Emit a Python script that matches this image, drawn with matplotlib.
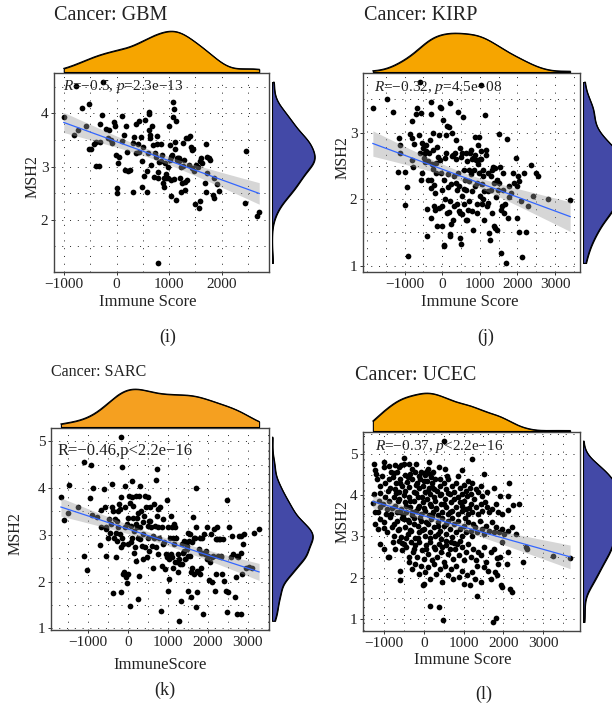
import numpy as np
import matplotlib
matplotlib.use("Agg")
import matplotlib.pyplot as plt
from matplotlib.ticker import MultipleLocator

plt.rcParams['font.family'] = ['Liberation Serif', 'DejaVu Serif']
plt.rcParams['mathtext.fontset'] = 'custom'
plt.rcParams['mathtext.rm'] = 'Liberation Serif'
plt.rcParams['mathtext.it'] = 'Liberation Serif:italic'

W, H = 612, 714

# (Immune Score, MSH2)
gbm_points = [
    (-1006, 3.94), (-804, 3.59), (-741, 3.68), (-659, 4.11), (-583, 3.76), (-520, 4.18), (-526, 3.33),
    (-488, 3.33), (-425, 3.43), (-387, 3.47), (-387, 3.02), (-343, 3.01), (-312, 3.47), (-324, 3.81),
    (-280, 3.97), (-204, 3.71), (-166, 3.54), (-135, 3.68), (-110, 3.51), (-78, 3.44), (-53, 3.84),
    (-28, 3.76), (-9, 3.22), (4, 2.59), (10, 2.51), (35, 3.07), (48, 3.19), (99, 3.49), (111, 3.96),
    (136, 3.59), (162, 2.93), (187, 3.76), (199, 3.27), (225, 2.92), (250, 2.94), (307, 2.52), (307, 3.44),
    (326, 3.56), (364, 3.81), (370, 3.26), (401, 3.43), (427, 3.85), (433, 3.27), (471, 3.55), (477, 2.62),
    (477, 3.10), (502, 3.36), (515, 2.82), (540, 3.88), (578, 2.91), (584, 2.52), (597, 3.26), (610, 4.02),
    (616, 3.99), (622, 3.68), (635, 3.60), (641, 3.53), (660, 3.04), (673, 3.76), (692, 3.40), (717, 2.80),
    (730, 3.26), (742, 3.18), (761, 3.42), (774, 3.57), (780, 2.78), (793, 2.89), (812, 3.08), (837, 3.43),
    (849, 3.11), (868, 3.22), (887, 2.69), (894, 2.62), (906, 2.79), (919, 3.06), (938, 2.87), (950, 2.78),
    (982, 3.00), (982, 2.78), (1007, 3.76), (1014, 3.12), (1026, 3.41), (1032, 2.44), (1039, 3.19),
    (1045, 2.74), (1064, 3.22), (1083, 3.94), (1089, 4.08), (1077, 4.21), (1096, 2.77), (1114, 3.34),
    (1121, 3.46), (1127, 2.38), (1140, 3.85), (1146, 3.13), (1159, 3.17), (1171, 3.16), (1184, 3.11),
    (1197, 3.16), (1209, 2.79), (1228, 2.53), (1234, 2.99), (1253, 2.69), (1266, 3.45), (1272, 3.01),
    (1285, 3.12), (1304, 2.56), (1310, 2.71), (1329, 3.54), (1335, 2.74), (1354, 3.54), (1373, 3.04),
    (1392, 3.58), (1411, 3.36), (1430, 3.32), (1436, 2.97), (1449, 3.33), (1480, 2.92), (1487, 2.29),
    (1512, 3.04), (1556, 2.99), (1562, 2.22), (1581, 3.10), (1588, 2.35), (1600, 3.16), (1626, 3.07),
    (1676, 2.69), (1701, 3.43), (1708, 2.53), (1720, 3.18), (1727, 2.88), (1752, 3.16), (1783, 3.12),
    (1834, 2.47), (1846, 2.42), (1865, 2.78), (1922, 2.67), (1954, 2.55), (2465, 3.30), (2452, 2.32),
    (2667, 2.07), (2717, 2.14), (786, 1.19), (-772, 4.51), (-261, 4.59),
]

kirp_points = [
    (-1844, 3.37), (-1461, 3.50), (-1301, 3.31), (-1150, 2.92), (-1124, 2.81), (-1132, 2.70), (-1177, 2.41),
    (-990, 2.41), (-937, 2.18), (-999, 1.91), (-857, 2.98), (-812, 2.92), (-795, 3.17), (-750, 2.83),
    (-812, 2.59), (-777, 2.49), (-706, 3.28), (-661, 3.37), (-617, 2.96), (-599, 2.69), (-572, 2.29),
    (-546, 2.39), (-528, 2.84), (-501, 2.77), (-484, 2.62), (-457, 2.56), (-439, 2.81), (-421, 2.72),
    (-395, 1.85), (-412, 1.45), (-350, 2.69), (-332, 2.89), (-306, 3.46), (-306, 3.28), (-306, 2.29),
    (-288, 1.72), (-261, 2.53), (-244, 2.99), (-235, 2.74), (-217, 1.90), (-208, 2.21), (-190, 2.09),
    (-172, 2.39), (-155, 2.54), (-128, 2.79), (-101, 2.63), (-84, 2.96), (-66, 2.59), (-48, 3.39),
    (-21, 3.37), (-12, 1.59), (5, 2.14), (5, 1.89), (32, 3.19), (50, 1.29), (59, 2.28), (76, 2.62),
    (94, 2.69), (112, 2.96), (139, 3.10), (156, 2.38), (174, 1.80), (183, 3.08), (201, 3.44), (210, 1.45),
    (219, 1.97), (236, 2.22), (254, 2.65), (272, 2.99), (290, 1.69), (316, 2.34), (325, 1.89), (343, 2.69),
    (361, 2.61), (379, 2.24), (405, 2.14), (423, 3.31), (432, 2.39), (450, 1.82), (468, 1.79), (476, 1.42),
    (494, 1.32), (503, 2.64), (521, 2.04), (539, 2.69), (556, 3.24), (574, 2.44), (592, 1.92), (610, 2.29),
    (628, 2.69), (645, 2.14), (672, 1.69), (699, 2.44), (716, 1.97), (734, 2.69), (761, 2.74), (779, 2.12),
    (788, 2.61), (805, 1.82), (823, 1.54), (841, 2.44), (859, 2.66), (876, 2.94), (894, 2.59), (912, 1.79),
    (930, 2.24), (939, 2.81), (965, 2.39), (983, 2.94), (1001, 2.04), (1019, 2.61), (1036, 2.72),
    (1054, 1.92), (1072, 2.44), (1090, 2.34), (1116, 2.12), (1143, 3.26), (1161, 2.66), (1188, 1.89),
    (1205, 1.94), (1223, 2.39), (1250, 1.49), (1268, 1.39), (1294, 2.14), (1312, 2.44), (1339, 2.49),
    (1383, 1.59), (1410, 1.57), (1428, 2.03), (1463, 1.54), (1481, 2.14), (1516, 2.98), (1534, 2.49),
    (1561, 1.84), (1588, 1.89), (1605, 2.39), (1650, 1.79), (1694, 1.04), (1721, 2.91), (1739, 1.72),
    (1783, 2.03), (1828, 2.09), (1961, 2.62), (2005, 2.34), (1979, 1.71), (2032, 1.51), (2050, 2.27),
    (2094, 1.97), (2112, 1.13), (2183, 2.39), (2228, 1.51), (2272, 1.89), (2361, 2.52), (2405, 2.04),
    (2494, 2.39), (2539, 2.34), (2805, 2.00), (3401, 1.98), (1561, 1.19), (-919, 1.15), (59, 1.31),
    (201, 1.47), (-572, 3.30), (-466, 2.69), (-386, 2.58), (-377, 2.29), (-288, 2.16), (-235, 2.45),
    (-190, 1.83), (-137, 1.59), (-92, 1.87), (-30, 2.39), (76, 2.00), (121, 1.79), (165, 2.18), (228, 1.62),
    (299, 2.66), (361, 2.89), (396, 1.92), (441, 2.20), (485, 2.77), (539, 1.77), (583, 2.15), (619, 1.69),
    (654, 2.58), (690, 1.84), (725, 2.27), (770, 2.38), (814, 2.62), (876, 2.19), (921, 1.92), (956, 2.53),
    (1001, 2.60), (1045, 2.22), (1090, 2.00), (1116, 1.69), (1161, 2.74), (1223, 2.12), (1285, 2.34),
    (1321, 1.79), (1365, 2.24), (1401, 2.47), (1445, 2.29), (1508, 2.24), (1605, 2.14), (1676, 1.92),
    (1783, 2.19), (1872, 2.39), (1916, 2.24), (1979, 2.19), (-599, 3.76), (1036, 3.71),
]

sarc_points = [
    (-1670, 3.82), (-1596, 3.32), (-1504, 3.46), (-1471, 4.07), (-1239, 3.59), (-1099, 2.55), (-1090, 4.56),
    (-1016, 2.25), (-950, 3.78), (-925, 4.49), (-883, 3.43), (-867, 4.00), (-767, 3.39), (-701, 2.79),
    (-660, 3.53), (-593, 3.99), (-577, 3.59), (-552, 3.16), (-535, 2.55), (-494, 2.94), (-477, 3.34),
    (-453, 3.05), (-428, 3.23), (-395, 4.09), (-370, 3.52), (-362, 1.75), (-345, 2.94), (-328, 3.34),
    (-304, 3.05), (-262, 2.87), (-246, 3.16), (-221, 3.67), (-204, 3.55), (-188, 3.02), (-179, 1.77),
    (-163, 3.80), (-146, 2.94), (-138, 4.46), (-121, 2.80), (-97, 2.20), (-80, 3.59), (-63, 3.16),
    (-39, 2.09), (-22, 1.98), (3, 2.80), (19, 3.36), (36, 3.84), (61, 1.47), (69, 3.69), (86, 3.19),
    (102, 2.94), (119, 4.16), (127, 3.37), (152, 2.62), (169, 3.09), (185, 2.73), (210, 2.44), (226, 3.16),
    (235, 3.37), (251, 1.62), (268, 2.94), (284, 2.12), (301, 3.16), (318, 4.05), (334, 3.52), (351, 2.77),
    (376, 2.48), (392, 3.02), (417, 3.41), (434, 3.84), (458, 3.59), (475, 2.52), (500, 2.94), (525, 3.30),
    (541, 2.66), (566, 3.59), (583, 3.16), (599, 2.77), (624, 2.98), (641, 2.30), (665, 3.67), (682, 3.19),
    (707, 4.17), (723, 4.41), (732, 3.41), (748, 2.59), (765, 3.55), (790, 2.94), (814, 3.59), (831, 1.37),
    (848, 3.16), (872, 2.80), (889, 3.34), (914, 2.84), (930, 2.27), (955, 2.59), (980, 3.74), (997, 3.16),
    (1013, 1.80), (1030, 2.05), (1038, 2.48), (1055, 2.94), (1080, 3.41), (1096, 2.52), (1113, 3.16),
    (1129, 2.30), (1146, 2.80), (1162, 3.23), (1179, 3.16), (1204, 2.94), (1229, 2.41), (1245, 2.59),
    (1270, 2.48), (1287, 1.16), (1303, 2.37), (1328, 1.59), (1353, 2.80), (1369, 2.62), (1394, 2.66),
    (1411, 2.87), (1452, 2.84), (1469, 2.69), (1494, 1.80), (1510, 2.55), (1535, 2.87), (1560, 2.55),
    (1576, 2.20), (1593, 1.66), (1618, 2.84), (1643, 3.39), (1659, 2.94), (1676, 2.94), (1701, 4.00),
    (1717, 3.16), (1734, 2.23), (1742, 1.77), (1759, 2.20), (1783, 2.69), (1808, 2.94), (1825, 2.62),
    (1841, 2.30), (1866, 2.94), (1891, 1.30), (1908, 3.02), (1924, 2.59), (1949, 2.66), (1974, 2.48),
    (2007, 2.55), (2032, 2.03), (2057, 2.41), (2073, 3.02), (2115, 2.00), (2140, 2.55), (2156, 3.12),
    (2173, 1.80), (2198, 2.91), (2222, 3.17), (2239, 2.91), (2256, 2.55), (2280, 2.91), (2305, 2.91),
    (2338, 2.52), (2363, 2.16), (2388, 2.91), (2405, 2.02), (2446, 1.80), (2471, 3.74), (2487, 1.34),
    (2504, 1.77), (2537, 3.16), (2570, 2.52), (2612, 2.98), (2637, 2.59), (2670, 1.66), (2695, 2.09),
    (2719, 1.30), (2736, 2.55), (2777, 2.98), (2819, 2.98), (2835, 1.30), (2860, 2.16), (2885, 2.80),
    (2902, 3.02), (2968, 2.30), (3026, 2.32), (3109, 2.30), (3167, 3.03), (3283, 3.13), (-287, 2.53),
    (-387, 3.59), (-279, 3.29), (-246, 3.52), (-163, 2.73), (-14, 3.23), (86, 2.84), (210, 3.23),
    (268, 3.46), (318, 2.91), (376, 3.27), (442, 2.73), (500, 3.19), (558, 3.30), (649, 2.94), (715, 2.73),
    (748, 3.16), (856, 2.34), (972, 2.52), (1080, 2.59), (1137, 2.94), (1187, 2.41), (1262, 2.20),
    (1361, 2.37), (1427, 2.48), (1477, 2.77), (1518, 3.05), (1560, 3.02), (1618, 2.30), (1659, 2.16),
    (1717, 1.45), (1800, 2.16), (1866, 2.62), (1991, 3.16), (2098, 2.53), (2214, 2.17), (2322, 2.55),
    (2752, 2.52), (2835, 2.62), (-121, 2.16), (3, 2.16), (293, 3.84), (500, 3.80), (210, 3.84), (127, 3.62),
    (-80, 4.05), (102, 3.80), (-660, 3.16), (-535, 3.12), (-171, 5.09),
]

ucec_points = [
    (-1261, 4.76), (-1219, 4.62), (-1194, 4.52), (-1009, 4.80), (-992, 4.69), (-866, 4.72), (-815, 4.57),
    (-714, 4.73), (-672, 4.56), (-630, 4.69), (-563, 4.74), (-504, 4.76), (-478, 4.49), (-377, 4.76),
    (-335, 4.52), (-209, 4.57), (-184, 4.77), (-125, 4.48), (-58, 4.56), (1, 4.54), (43, 4.49), (86, 4.60),
    (128, 4.80), (170, 4.52), (195, 4.45), (237, 4.57), (-487, 4.90), (380, 4.68), (506, 5.32), (969, 4.62),
    (1222, 4.88), (1121, 4.35), (1517, 4.52), (2131, 4.30), (523, 4.65), (591, 4.48),
    (-1177, 4.39), (-1093, 4.23), (-1051, 4.46), (-967, 4.31), (-883, 4.39), (-840, 4.19), (-782, 4.44),
    (-731, 4.15), (-689, 4.31), (-630, 4.07), (-588, 4.39), (-546, 4.23), (-462, 4.11), (-420, 4.33),
    (-361, 4.21), (-293, 4.39), (-251, 4.09), (-167, 4.31), (-125, 4.17), (-83, 4.39), (-24, 4.23),
    (27, 4.07), (86, 4.35), (128, 4.19), (170, 4.03), (212, 4.31), (254, 4.15), (296, 4.39), (338, 4.11),
    (397, 4.23), (447, 4.03), (506, 4.31), (549, 4.15), (616, 4.39), (650, 4.03), (700, 4.23), (759, 4.07),
    (801, 4.31), (868, 4.48), (902, 4.19), (953, 4.03), (1011, 4.25), (1054, 4.11), (1096, 3.99),
    (1155, 4.19), (1222, 4.31), (1180, 4.03), (1306, 4.15), (1373, 4.07), (1432, 4.23), (1474, 3.99),
    (1601, 4.07), (1769, 4.17), (1912, 3.99), (2106, 3.99),
    (-1261, 4.03), (-1278, 3.81), (-1219, 3.59), (-1135, 3.87), (-1093, 3.71), (-1034, 3.79), (-967, 3.95),
    (-925, 3.67), (-866, 3.87), (-815, 3.55), (-756, 3.95), (-714, 3.75), (-672, 3.59), (-613, 3.91),
    (-563, 3.67), (-529, 3.51), (-478, 3.83), (-436, 3.59), (-377, 3.95), (-335, 3.71), (-293, 3.52),
    (-234, 3.87), (-192, 3.63), (-142, 3.95), (-108, 3.75), (-58, 3.55), (-16, 3.83), (43, 3.63), (86, 3.91),
    (128, 3.51), (187, 3.75), (229, 3.59), (279, 3.87), (313, 3.67), (363, 3.51), (422, 3.79), (464, 3.59),
    (532, 3.91), (565, 3.71), (616, 3.55), (675, 3.83), (717, 3.63), (768, 3.91), (818, 3.71), (868, 3.55),
    (910, 3.83), (969, 3.63), (1020, 3.87), (1070, 3.67), (1121, 3.55), (1180, 3.79), (1222, 3.59),
    (1272, 3.91), (1323, 3.71), (1373, 3.55), (1432, 3.79), (1474, 3.63), (1542, 3.83), (1601, 3.71),
    (1643, 3.59), (1727, 3.67), (1811, 3.79), (1879, 3.59), (1980, 3.55), (2106, 3.65), (2249, 3.76),
    (2400, 3.79),
    (-1236, 3.30), (-1152, 3.18), (-1093, 3.42), (-1009, 3.34), (-925, 3.10), (-840, 3.47), (-798, 3.22),
    (-739, 3.02), (-672, 3.38), (-613, 3.18), (-563, 2.98), (-504, 3.42), (-462, 3.22), (-403, 3.06),
    (-361, 3.34), (-310, 3.14), (-251, 3.44), (-209, 2.96), (-150, 3.26), (-108, 3.10), (-58, 3.38),
    (1, 3.18), (43, 3.00), (102, 3.30), (153, 3.10), (195, 3.42), (254, 3.22), (296, 3.02), (355, 3.34),
    (397, 3.14), (447, 2.94), (506, 3.26), (549, 3.06), (607, 3.38), (650, 3.18), (717, 2.98), (759, 3.30),
    (801, 3.10), (868, 3.38), (902, 3.18), (969, 3.02), (1011, 3.26), (1070, 3.10), (1121, 3.34),
    (1180, 3.14), (1222, 3.00), (1289, 3.22), (1348, 3.10), (1407, 3.38), (1458, 3.18), (1517, 3.06),
    (1575, 3.26), (1643, 3.14), (1710, 3.34), (1769, 3.10), (1811, 3.22), (1895, 3.10), (1963, 3.18),
    (2022, 3.06), (2123, 3.14), (2207, 3.22),
    (-1093, 2.82), (-1009, 2.70), (-883, 2.50), (-782, 2.86), (-714, 2.70), (-630, 2.90), (-546, 2.66),
    (-504, 2.82), (-445, 2.74), (-377, 2.50), (-319, 2.86), (-276, 2.62), (-209, 2.78), (-167, 2.50),
    (-108, 2.86), (-41, 2.66), (1, 2.46), (60, 2.78), (111, 2.58), (170, 2.86), (212, 2.42), (279, 2.70),
    (338, 2.50), (380, 2.82), (447, 2.62), (506, 2.37), (565, 2.78), (616, 2.58), (675, 2.86), (734, 2.46),
    (784, 2.70), (843, 2.82), (885, 2.54), (953, 2.74), (1011, 2.42), (1070, 2.62), (1121, 2.82),
    (1180, 2.50), (1247, 2.70), (1306, 2.42), (1373, 2.62), (1432, 2.54), (1517, 2.74), (1575, 2.37),
    (1685, 2.62), (1769, 2.70), (1853, 2.47), (1912, 2.50), (1980, 2.86), (2123, 2.62), (2569, 2.74),
    (2586, 2.70), (3242, 2.52), (3680, 2.47), (2316, 3.06),
    (-899, 2.50), (-605, 2.17), (-588, 1.93), (-377, 2.37), (-293, 2.21), (-209, 2.33), (-125, 2.09),
    (-58, 2.29), (1, 1.85), (43, 2.13), (111, 2.25), (170, 1.97), (254, 2.33), (313, 2.09), (397, 2.21),
    (464, 1.89), (532, 2.29), (616, 2.05), (675, 2.21), (734, 1.97), (801, 2.29), (885, 2.01), (953, 2.17),
    (1011, 1.85), (1096, 2.05), (1155, 1.81), (1222, 2.13), (1289, 1.97), (1348, 2.29), (1432, 1.89),
    (1517, 2.25), (1626, 2.17), (1685, 1.97), (1794, 2.13), (1853, 2.05), (1879, 2.33), (1937, 1.81),
    (1963, 1.77), (2081, 2.33), (2165, 1.73), (2207, 1.65), (2485, 2.37),
    (1348, 1.55), (170, 1.30), (380, 1.28), (481, 0.96), (1744, 0.92), (1811, 1.02), (-7, 1.81),
    # the solid core of the cloud
    (-700, 4.05), (-650, 3.85), (-600, 3.60), (-550, 3.45), (-500, 4.00), (-450, 3.75), (-400, 3.40),
    (-350, 3.85), (-300, 3.60), (-250, 3.30), (-200, 4.05), (-150, 3.70), (-100, 3.45), (-50, 3.95),
    (0, 3.70), (50, 3.35), (100, 4.10), (150, 3.80), (200, 3.50), (250, 3.95), (300, 3.70), (350, 3.25),
    (400, 4.00), (450, 3.45), (500, 3.80), (550, 3.30), (600, 4.05), (650, 3.60), (700, 3.45), (-800, 3.70),
    (-750, 3.30), (-900, 4.10), (-950, 3.55), (-650, 3.15), (-550, 2.85), (-450, 2.95), (-350, 3.15),
    (-250, 2.70), (-150, 2.95), (-50, 3.15), (50, 2.70), (150, 2.95), (250, 2.75), (350, 3.05), (450, 2.75),
    (550, 2.90), (650, 2.70), (750, 2.85), (-600, 4.30), (-400, 4.45), (-200, 4.25), (0, 4.35), (200, 4.20),
    (400, 4.40), (-750, 4.55), (-300, 4.65), (100, 4.65), (-1100, 4.05), (-1150, 3.60), (-1000, 3.20),
    (850, 3.95), (950, 3.75), (1050, 3.45), (900, 2.90), (1150, 3.70), (1250, 3.30),
]

panels = [
    dict(title="Cancer: GBM", pts=gbm_points, xlabel="Immune Score", tag="(i)",
         stat=r"$R$=−0.5, $p$=2.3e−13", xt=[-1000, 0, 1000, 2000], yt=[2, 3, 4], orange="#F6A500"),
    dict(title="Cancer: KIRP", pts=kirp_points, xlabel="Immune Score", tag="(j)",
         stat=r"$R$=−0.32, $p$=4.5e−08", xt=[-1000, 0, 1000, 2000, 3000], yt=[1, 2, 3], orange="#F6A500"),
    dict(title="Cancer: SARC", pts=sarc_points, xlabel="ImmuneScore", tag="(k)",
         stat="R=−0.46,p<2.2e−16", xt=[-1000, 0, 1000, 2000, 3000], yt=[1, 2, 3, 4, 5], orange="#F5A020"),
    dict(title="Cancer: UCEC", pts=ucec_points, xlabel="Immune Score", tag="(l)",
         stat=r"$R$=−0.37, $p$<2.2e−16", xt=[-1000, 0, 1000, 2000, 3000], yt=[1, 2, 3, 4, 5], orange="#F6A500"),
]

# pixel layout of each panel: main box, top strip, right strip, text spots
layout = [
    dict(box=(54, 73, 269, 272), top=30, right=316, title=(54, 15, 14.5), stat=(0.04, 0.93, 11),
         xl=(148, 302), yl=(33, 177), tag=(168, 337)),
    dict(box=(363, 73, 580, 272), top=32, right=625, title=(364, 15, 14.5), stat=(0.05, 0.925, 11),
         xl=(470, 302), yl=(343, 158), tag=(486, 337)),
    dict(box=(51, 428, 269, 630), top=388, right=314, title=(51, 372, 11.5), stat=(0.03, 0.885, 12),
         xl=(160, 665), yl=(16, 534), tag=(165, 690)),
    dict(box=(363, 432, 580, 631), top=392, right=625, title=(355, 375, 14.5), stat=(0.055, 0.925, 11),
         xl=(463, 660), yl=(343, 522), tag=(484, 694)),
]


def px_axes(fig, x0, y0, x1, y1):
    return fig.add_axes([x0 / W, 1 - y1 / H, (x1 - x0) / W, (y1 - y0) / H])


def kde(v, grid):
    # gaussian density, bandwidth like R's bw.nrd0
    n = len(v)
    sd = np.std(v, ddof=1)
    q75, q25 = np.percentile(v, [75, 25])
    bw = 0.9 * min(sd, (q75 - q25) / 1.34) * n ** (-0.2)
    z = (grid[:, None] - v[None, :]) / bw
    return np.exp(-0.5 * z ** 2).sum(axis=1) / (n * bw * np.sqrt(2 * np.pi))


def draw_panel(fig, p, lay):
    pts = np.array(p["pts"], dtype=float)
    x, y = pts[:, 0], pts[:, 1]
    x0, y0, x1, y1 = lay["box"]
    xr = x.max() - x.min()
    yr = y.max() - y.min()
    xlim = (x.min() - 0.05 * xr, x.max() + 0.05 * xr)
    ylim = (y.min() - 0.05 * yr, y.max() + 0.05 * yr)

    ax = px_axes(fig, x0, y0, x1, y1)
    ax.scatter(x, y, s=17, color="black", linewidths=0, zorder=2)

    # linear fit with 95% band
    n = len(x)
    b, a = np.polyfit(x, y, 1)
    xs = np.linspace(x.min(), x.max(), 100)
    fit = a + b * xs
    s = np.sqrt(np.sum((y - (a + b * x)) ** 2) / (n - 2))
    se = s * np.sqrt(1 / n + (xs - x.mean()) ** 2 / np.sum((x - x.mean()) ** 2))
    ax.fill_between(xs, fit - 1.97 * se, fit + 1.97 * se, color="#999999", alpha=0.4, lw=0, zorder=3)
    ax.plot(xs, fit, color="#3366FF", lw=0.9, zorder=4)

    ax.set_xlim(xlim)
    ax.set_ylim(ylim)
    ax.set_xticks(p["xt"])
    ax.set_yticks(p["yt"])
    ax.xaxis.set_minor_locator(MultipleLocator(500))
    ax.yaxis.set_minor_locator(MultipleLocator(0.5))
    ax.grid(which="both", color="#222222", lw=0.7, ls=(0, (1, 7)), zorder=0)
    ax.tick_params(which="major", length=2.5, width=0.7, color="#333333", labelsize=11,
                   pad=1.5, labelcolor="#222222")
    ax.tick_params(which="minor", length=0)
    for sp in ax.spines.values():
        sp.set_color("#444444")
        sp.set_linewidth(1.0)
    sx, sy, ss = lay["stat"]
    ax.text(sx, sy, p["stat"], transform=ax.transAxes, fontsize=ss, color="#222222",
            ha="left", va="center", zorder=5)

    # top marginal density
    axt = px_axes(fig, x0, lay["top"], x1, y0 - 1)
    gx = np.linspace(x.min(), x.max(), 300)
    dx = kde(x, gx)
    axt.fill_between(gx, 0, dx, color=p["orange"], edgecolor="black", lw=0.8)
    axt.plot(gx, dx, color="black", lw=0.8)
    axt.set_xlim(xlim)
    axt.set_ylim(0, dx.max() * 1.03)
    axt.axis("off")

    # right marginal density
    axr = px_axes(fig, x1 + 3, y0, lay["right"], y1)
    gy = np.linspace(y.min(), y.max(), 300)
    dy = kde(y, gy)
    axr.fill_betweenx(gy, 0, dy, color="#4349A7", edgecolor="black", lw=0.8)
    axr.plot(dy, gy, color="black", lw=0.8)
    axr.set_ylim(ylim)
    axr.set_xlim(0, dy.max() * 1.03)
    axr.axis("off")

    tx, ty, ts = lay["title"]
    fig.text(tx / W, 1 - ty / H, p["title"], fontsize=ts, ha="left", va="center", color="#222222")
    fig.text(lay["xl"][0] / W, 1 - lay["xl"][1] / H, p["xlabel"], fontsize=12, ha="center", va="center",
             color="#222222")
    fig.text(lay["yl"][0] / W, 1 - lay["yl"][1] / H, "MSH2", fontsize=11.5, ha="center", va="center",
             rotation=90, color="#222222")
    fig.text(lay["tag"][0] / W, 1 - lay["tag"][1] / H, p["tag"], fontsize=13, ha="center", va="center",
             color="#222222")


fig = plt.figure(figsize=(W / 100, H / 100), dpi=100)
for p, lay in zip(panels, layout):
    draw_panel(fig, p, lay)

fig.savefig("out.png", dpi=100, facecolor="white")
